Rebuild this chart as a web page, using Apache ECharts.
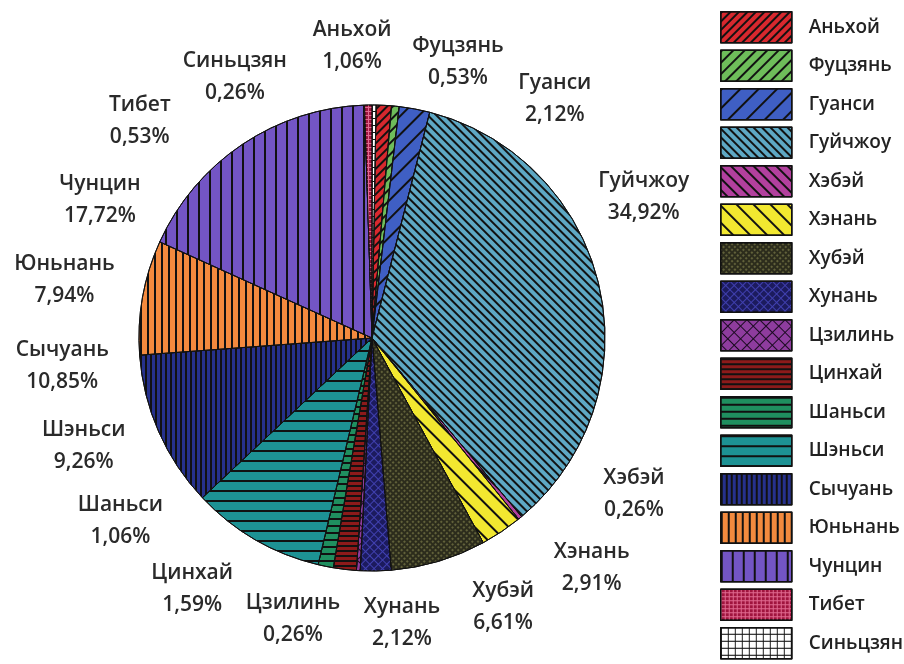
<!DOCTYPE html>
<html>
<head>
<meta charset="utf-8">
<script src="https://cdn.jsdelivr.net/npm/echarts@6/dist/echarts.min.js"></script>
<style>
html,body{margin:0;padding:0;background:#fff;}
#c{width:904px;height:664px;}
</style>
</head>
<body>
<div id="c"></div>
<script>
// ---- data ----
const categories = ['Аньхой','Фуцзянь','Гуанси','Гуйчжоу','Хэбэй','Хэнань','Хубэй','Хунань','Цзилинь','Цинхай','Шаньси','Шэньси','Сычуань','Юньнань','Чунцин','Тибет','Синьцзян'];
const shares = [1.06,0.53,2.12,34.92,0.26,2.91,6.61,2.12,0.26,1.59,1.06,9.26,10.85,7.94,17.72,0.53,0.26];

// ---- styles ----
const fills = ['#d8282e','#6ebd5a','#3f5fc4','#5ea8c4','#b2409e','#f2e830','#2c2c1c','#1c1b5e','#8e3c9e','#8c1a1a','#1f8f5f','#1d9294','#26318c','#f38a3e','#7355c4','#a0143e','#ffffff'];
const Q = Math.PI/4;
function diag(rot, lw, gap, color){ return {symbol:'rect', symbolSize:1, dashArrayX:[1,0], dashArrayY:[lw,gap], rotation:rot, color:color||'#111'}; }
function hlines(lw, gap, color){ return diag(0, lw, gap, color); }
function vlines(lw, gap, color){ return {symbol:'rect', symbolSize:1, dashArrayX:[lw,gap], dashArrayY:[1,0], rotation:0, color:color||'#111'}; }
function grid(step, rot, color){
  const rows = [[step,0]];
  for (let i=1;i<step;i++) rows.push([1, step-1]);
  return {symbol:'rect', symbolSize:1, dashArrayX:rows, dashArrayY:[1,0], rotation:rot, color:color};
}
const decals = [
  diag(-Q, 1.5, 3.5),          // Аньхой
  diag(-Q, 1.5, 5.5),          // Фуцзянь
  diag(-Q, 1.5, 11),           // Гуанси
  diag(Q, 1.5, 3.5),           // Гуйчжоу
  diag(Q, 2, 6),               // Хэбэй
  diag(Q, 2, 10),              // Хэнань
  {symbol:'circle', symbolSize:0.8, dashArrayX:[2,2], dashArrayY:[2,2], rotation:Q, color:'#a4a460'}, // Хубэй
  grid(6, Q, '#4040b0'),       // Хунань
  grid(9, Q, '#1a0a20'),       // Цзилинь
  hlines(1.5, 3),              // Цинхай
  hlines(1.5, 5),              // Шаньси
  hlines(1.5, 8),              // Шэньси
  vlines(1.5, 3),              // Сычуань
  vlines(1.5, 5),              // Юньнань
  vlines(1.5, 9),              // Чунцин
  grid(4, 0, '#e06a90'),       // Тибет
  grid(7, 0, '#111')           // Синьцзян
];
// label placement: [angle (deg, clockwise from 12 o'clock), distance from pie centre]
const labelPolar = [[-3.9,293],[17.3,289],[37.4,301],[62.6,306],[120.8,305],[136.3,318],[154,299],[174,287],[195.7,292],[215.6,309],[234,311],[249.4,308],[264.8,311],[280.7,313],[296.9,305],[313.1,318],[332.3,295]];

const CX = 372, CY = 338, R = 233;
const FONT = '"Open Sans", "DejaVu Sans", sans-serif';

const data = categories.map((n,i)=>({
  name:n, value:shares[i],
  itemStyle:{color:fills[i], decal:decals[i], borderColor:'#111', borderWidth:1}
}));

const chart = echarts.init(document.getElementById('c'), null, {renderer:'canvas'});
chart.setOption({
  animation:false,
  backgroundColor:'#fff',
  legend:{
    orient:'vertical', left:720, top:11, padding:0,
    itemWidth:71, itemHeight:31, itemGap:6, icon:'rect',
    itemStyle:{borderColor:'#111', borderWidth:1.5},
    textStyle:{fontFamily:FONT, fontWeight:600, fontSize:19, color:'#222', padding:[0,0,0,12]},
    selectedMode:false,
    data:categories
  },
  series:[{
    type:'pie',
    center:[CX,CY],
    radius:R,
    startAngle:89,
    clockwise:true,
    avoidLabelOverlap:false,
    emphasis:{disabled:true},
    label:{
      show:true, position:'outside',
      fontFamily:FONT, fontWeight:600, fontSize:21, lineHeight:32, color:'#2a2a2a',
      formatter:p=> p.name + '\n' + p.value.toFixed(2).replace('.',',') + '%'
    },
    labelLine:{show:false},
    labelLayout:function(p){
      const lp = labelPolar[p.dataIndex];
      const a = lp[0]*Math.PI/180;
      return {x: CX + lp[1]*Math.sin(a), y: CY - lp[1]*Math.cos(a), align:'center', verticalAlign:'middle'};
    },
    data:data
  }]
});
</script>
</body>
</html>
